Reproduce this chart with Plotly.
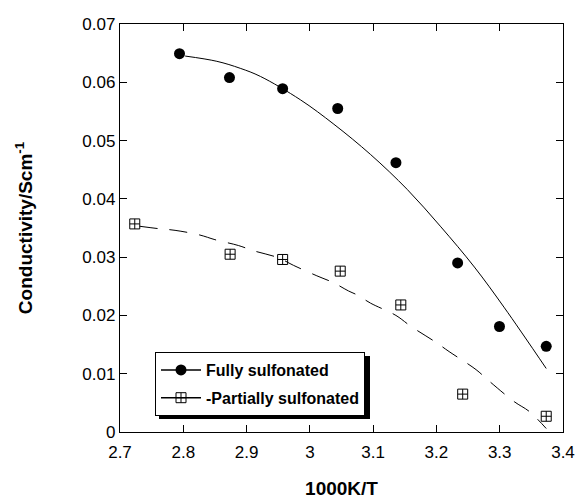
import plotly.graph_objects as go

# Measured points
full_x = [2.794, 2.873, 2.957, 3.044, 3.136, 3.2335, 3.2996, 3.3735]
full_y = [0.0649, 0.0608, 0.0589, 0.0555, 0.0462, 0.0290, 0.0181, 0.0147]

part_x = [2.7233, 2.874, 2.957, 3.048, 3.1437, 3.2415, 3.3735]
part_y = [0.0357, 0.0305, 0.0296, 0.0276, 0.0218, 0.0065, 0.0027]

# Trend curves
full_fit_x = [2.803, 2.853, 2.890, 2.922, 2.985, 3.038, 3.096, 3.154, 3.207, 3.260, 3.3075, 3.3735]
full_fit_y = [0.0645, 0.0636, 0.0624, 0.0610, 0.0570, 0.0528, 0.0476, 0.0416, 0.0352, 0.0283, 0.0213, 0.0109]

part_fit_x = [2.731, 2.760, 2.787, 2.826, 2.850, 2.887, 2.911, 2.950, 2.974, 3.011, 3.0376, 3.061,
              3.075, 3.096, 3.136, 3.160, 3.199, 3.220, 3.2626, 3.2837, 3.323, 3.347, 3.3735]
part_fit_y = [0.0353, 0.0349, 0.0346, 0.0338, 0.0330, 0.0320, 0.0311, 0.0299, 0.0286, 0.0268, 0.0256, 0.0242,
              0.0235, 0.0221, 0.0200, 0.0181, 0.0154, 0.0138, 0.0107, 0.0087, 0.0052, 0.0035, 0.0006]

x_ticks = [2.7, 2.8, 2.9, 3.0, 3.1, 3.2, 3.3, 3.4]
y_ticks = [0, 0.01, 0.02, 0.03, 0.04, 0.05, 0.06, 0.07]

legend_names = ["Fully sulfonated", "-Partially sulfonated"]

FONT = "Liberation Sans, Arial, sans-serif"

fig = go.Figure()
fig.add_trace(go.Scatter(x=full_fit_x, y=full_fit_y, mode="lines", line=dict(color="black", width=1, shape="spline"),
                         showlegend=False, hoverinfo="skip"))
fig.add_trace(go.Scatter(x=part_fit_x, y=part_fit_y, mode="lines",
                         line=dict(color="black", width=1, shape="spline", dash="18px,12px"),
                         showlegend=False, hoverinfo="skip"))
fig.add_trace(go.Scatter(x=full_x, y=full_y, mode="markers",
                         marker=dict(symbol="circle", size=11, color="black"), showlegend=False))
fig.add_trace(go.Scatter(x=part_x, y=part_y, mode="markers",
                         marker=dict(symbol="square-cross-open", size=10, color="black", line=dict(width=1)),
                         showlegend=False))
# legend entries
fig.add_trace(go.Scatter(x=[None], y=[None], mode="lines+markers", name=legend_names[0], legendgroup="a",
                         line=dict(color="black", width=1.5),
                         marker=dict(symbol="circle", size=11, color="black")))
fig.add_trace(go.Scatter(x=[None], y=[None], mode="lines+markers", name=legend_names[1], legendgroup="b",
                         line=dict(color="black", width=1.5),
                         marker=dict(symbol="square-cross-open", size=10, color="black", line=dict(width=1))))

axis_common = dict(showline=True, linecolor="black", linewidth=1.3, mirror="ticks", ticks="inside",
                   ticklen=7, tickwidth=1, tickcolor="black", showgrid=False, zeroline=False,
                   automargin=False,
                   tickfont=dict(family=FONT, size=17, color="black"))

fig.update_xaxes(range=[2.7, 3.4], tickvals=x_ticks, ticktext=[("%g" % v) for v in x_ticks],
                 ticklabelstandoff=4,
                 title=dict(text="<b>1000K/T</b>", font=dict(family=FONT, size=19, color="black"), standoff=24),
                 **axis_common)
fig.update_yaxes(range=[0, 0.07], tickvals=y_ticks, ticktext=[("%g" % v) for v in y_ticks],
                 title=dict(text="<b>Conductivity/Scm<sup>-1</sup></b>", font=dict(family=FONT, size=19, color="black"),
                            standoff=44),
                 **axis_common)

PL, PR, PT, PB = 120, 563, 24, 432
PW, PH = PR - PL, PB - PT


def px_x(v):
    return (v - PL) / PW


def px_y(v):
    return (PB - v) / PH


fig.update_layout(
    width=575, height=499,
    margin=dict(l=PL, r=575 - PR, t=PT, b=499 - PB),
    plot_bgcolor="white", paper_bgcolor="white",
    font=dict(family=FONT, color="black"),
    legend=dict(x=px_x(155), y=px_y(352), xanchor="left", yanchor="top",
                bgcolor="white", bordercolor="black", borderwidth=1,
                font=dict(family=FONT, size=16, color="black", weight="bold"),
                itemwidth=40, tracegroupgap=4),
    shapes=[dict(type="rect", xref="paper", yref="paper",
                 x0=px_x(159), x1=px_x(370), y0=px_y(419), y1=px_y(356),
                 fillcolor="black", line=dict(width=0), layer="above")],
)

fig.write_html("out.html")
